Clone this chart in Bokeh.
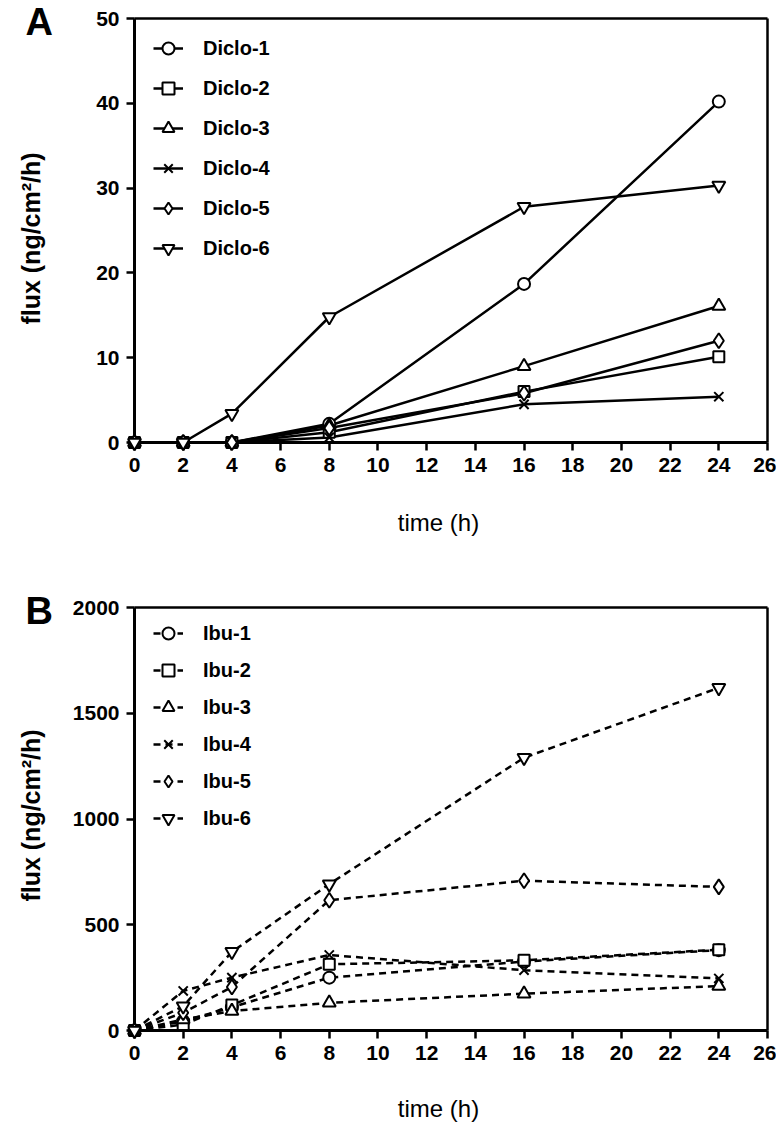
import numpy as np
from bokeh.plotting import figure
from bokeh.models import Range1d, LinearAxis, FixedTicker, Legend, LegendItem, Label
from bokeh.layouts import column
from bokeh.embed import file_html
from bokeh.resources import INLINE

# ---------------- data ----------------
time_h = [0, 2, 4, 8, 16, 24]
x_ticks = [0, 2, 4, 6, 8, 10, 12, 14, 16, 18, 20, 22, 24, 26]

diclo_labels = ["Diclo-1", "Diclo-2", "Diclo-3", "Diclo-4", "Diclo-5", "Diclo-6"]
diclo_1 = [0, 0, 0, 2.2, 18.7, 40.2]
diclo_2 = [0, 0, 0, 1.2, 6.0, 10.1]
diclo_3 = [0, 0, 0, 2.0, 9.0, 16.1]
diclo_4 = [0, 0, 0, 0.6, 4.5, 5.4]
diclo_5 = [0, 0, 0, 1.7, 5.8, 12.0]
diclo_6 = [0, 0, 3.4, 14.8, 27.8, 30.3]
a_y_ticks = [0, 10, 20, 30, 40, 50]

ibu_labels = ["Ibu-1", "Ibu-2", "Ibu-3", "Ibu-4", "Ibu-5", "Ibu-6"]
ibu_1 = [0, 44, 110, 250, 326, 380]
ibu_2 = [0, 28, 120, 313, 332, 382]
ibu_3 = [0, 52, 92, 131, 174, 210]
ibu_4 = [0, 187, 250, 357, 285, 246]
ibu_5 = [0, 84, 206, 616, 708, 679]
ibu_6 = [0, 115, 372, 692, 1290, 1620]
b_y_ticks = [0, 500, 1000, 1500, 2000]

x_title = "time (h)"
y_title = "flux (ng/cm²/h)"

# ---------------- styles / layout (page pixels) ----------------
FONT = "Liberation Sans"
MARKERS = [("circle", 12), ("square", 11), ("triangle", 13),
           ("x", 13), ("diamond", 15), ("inverted_triangle", 13)]
W = 776
X0_PAGE, XEND_PAGE = 134, 767       # page x of x=0 and x=26


def style_axis(ax, ticks):
    ax.ticker = FixedTicker(ticks=ticks)
    ax.axis_line_width = 3
    ax.axis_line_color = "black"
    ax.major_tick_line_width = 2.5
    ax.major_tick_line_color = "black"
    ax.major_tick_out = 8
    ax.major_tick_in = 0
    ax.minor_tick_line_color = None
    ax.major_label_text_font = FONT
    ax.major_label_text_font_style = "bold"
    ax.major_label_text_font_size = "21px"
    ax.major_label_text_color = "black"
    ax.major_label_standoff = 7


def frame_axis(loc, bounds):
    return LinearAxis(fixed_location=loc, bounds=bounds, ticker=FixedTicker(ticks=[]),
                      major_tick_out=0, major_tick_in=0, minor_tick_out=0, minor_tick_in=0,
                      major_tick_line_color=None, minor_tick_line_color=None,
                      major_label_text_font_size="0px",
                      axis_line_width=2.5, axis_line_color="black")


def make_panel(letter, labels, series, y_ticks, dash, fig_top, fig_h, y0_page, ytop_page,
               leg_spacing, leg_row1, xtitle_c, ytitle_c):
    x_max = x_ticks[-1]
    y_max = y_ticks[-1]
    ppx = (XEND_PAGE - X0_PAGE) / x_max
    ppy = (y0_page - ytop_page) / y_max
    x_start = -X0_PAGE / ppx
    x_end = x_start + W / ppx
    y_end = y_max + (ytop_page - fig_top) / ppy
    y_start = y_end - fig_h / ppy

    def dx(px):
        return (px - X0_PAGE) / ppx

    def dy(py):
        return (y0_page - py) / ppy

    p = figure(width=W, height=fig_h, output_backend="svg", toolbar_location=None,
               x_axis_location=None, y_axis_location=None,
               x_range=Range1d(x_start, x_end), y_range=Range1d(y_start, y_end),
               min_border=0)
    p.outline_line_color = None
    p.xgrid.visible = False
    p.ygrid.visible = False
    p.background_fill_color = "white"
    p.border_fill_color = "white"

    xa = LinearAxis(fixed_location=0, bounds=(0, x_max))
    ya = LinearAxis(fixed_location=0, bounds=(0, y_max))
    style_axis(xa, x_ticks)
    style_axis(ya, y_ticks)
    p.add_layout(xa, "below")
    p.add_layout(ya, "left")
    p.add_layout(frame_axis(y_max, (0, x_max)), "above")
    p.add_layout(frame_axis(x_max, (0, y_max)), "right")

    line_rs = []
    for ys in series:
        r = p.line(time_h, ys, line_color="black", line_width=2.5, line_dash=dash)
        line_rs.append(r)
    items = []
    for lab, ys, lr, (mk, sz) in zip(labels, series, line_rs, MARKERS):
        s = p.scatter(time_h, ys, marker=mk, size=sz, fill_color="white",
                      line_color="black", line_width=2, level="overlay")
        items.append(LegendItem(label=lab, renderers=[lr, s]))

    row_h = 30
    n = len(items)
    leg_h = n * row_h + (n - 1) * leg_spacing
    leg_top = leg_row1 - row_h / 2 - fig_top
    leg = Legend(items=items, location=(153, fig_h - leg_top - leg_h),
                 margin=0, padding=0, spacing=leg_spacing, glyph_width=30,
                 glyph_height=row_h, label_height=row_h, label_standoff=20,
                 border_line_color=None, background_fill_alpha=0, label_text_font=FONT,
                 label_text_font_style="bold", label_text_font_size="20px",
                 label_text_color="black")
    p.add_layout(leg)

    p.add_layout(Label(x=dx(25), y=dy(ytop_page + 3), text=letter, text_font=FONT,
                       text_font_style="bold", text_font_size="38px", text_align="left",
                       text_baseline="middle", text_color="black"))
    p.add_layout(Label(x=dx(438), y=dy(xtitle_c), text=x_title, text_font=FONT,
                       text_font_style="normal", text_font_size="24px", text_align="center",
                       text_baseline="middle", text_color="black"))
    p.add_layout(Label(x=dx(30), y=dy(ytitle_c), text=y_title, angle=np.pi / 2,
                       text_font=FONT, text_font_style="bold", text_font_size="25px",
                       text_align="center", text_baseline="middle", text_color="black"))
    return p


pA = make_panel("A", diclo_labels, [diclo_1, diclo_2, diclo_3, diclo_4, diclo_5, diclo_6],
                a_y_ticks, "solid", 0, 555, 442, 18, 10, 48, 522, 238)
pB = make_panel("B", ibu_labels, [ibu_1, ibu_2, ibu_3, ibu_4, ibu_5, ibu_6],
                b_y_ticks, "7 5", 555, 573, 1030, 607, 7, 633, 1108, 815)

layout = column(pA, pB, spacing=0)
open("out.html", "w").write(file_html(layout, INLINE))
